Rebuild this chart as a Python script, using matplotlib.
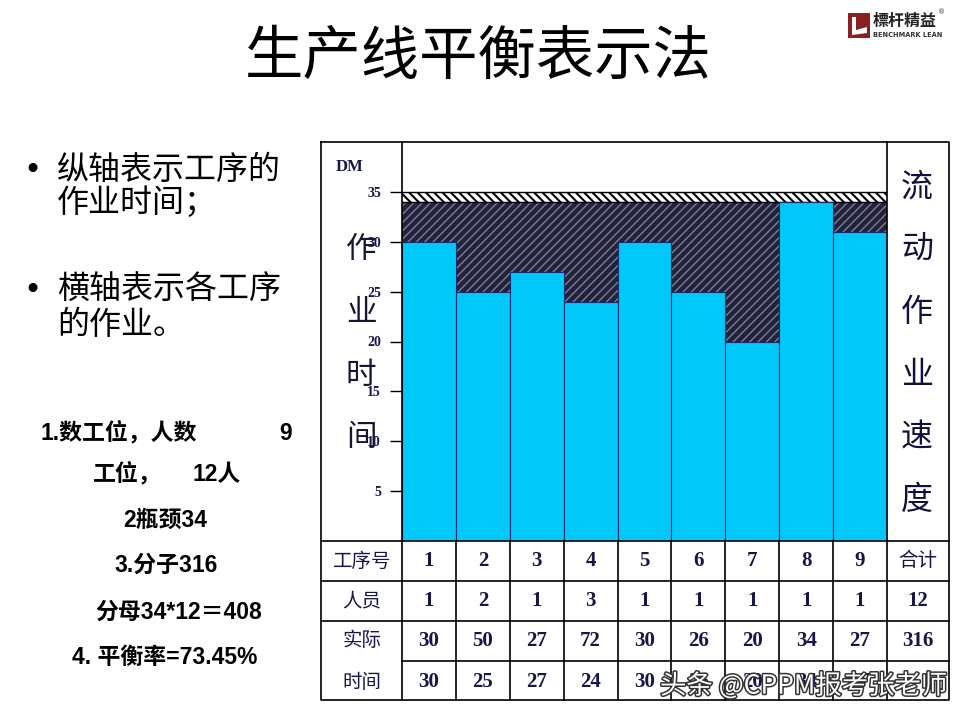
import matplotlib
matplotlib.use("Agg")
import matplotlib.pyplot as plt
import matplotlib.patheffects as pe
from matplotlib.patches import Rectangle, Polygon
import numpy as np

plt.rcParams['font.family'] = ['Noto Sans CJK SC', 'DejaVu Sans']
plt.rcParams['hatch.linewidth'] = 1.0

# ---------------- data ----------------
title = "生产线平衡表示法"
stations = ["1", "2", "3", "4", "5", "6", "7", "8", "9"]
work_time = [30, 25, 27, 24, 30, 25, 20, 34, 31]   # bar heights
bottleneck = 34
takt_band_top = 35
y_ticks = [5, 10, 15, 20, 25, 30, 35]

row_labels = ["工序号", "人员", "实际", "时间"]
people = ["1", "2", "1", "3", "1", "1", "1", "1", "1"]
actual = ["30", "50", "27", "72", "30", "26", "20", "34", "27"]
times = ["30", "25", "27", "24", "30", "26", "20", "34", "27"]
totals = ["合计", "12", "316", ""]

left_axis_chars = ["作", "业", "时", "间"]
right_axis_chars = ["流", "动", "作", "业", "速", "度"]

bullets = [["纵轴表示工序的", "作业时间；"], ["横轴表示各工序", "的作业。"]]

navy = "#16164a"
cyan = "#00C8F8"

fig = plt.figure(figsize=(9.6, 7.2), dpi=100)

# ---------------- chart axes (pixel geometry) ----------------
X0, X1, YT, YB = 402, 887, 142, 541
ax = fig.add_axes([X0 / 960, 1 - YB / 720, (X1 - X0) / 960, (YB - YT) / 720])
ax.set_xlim(0.5, 9.5)
ax.set_ylim(0, 40)
xs = np.arange(1, len(work_time) + 1)

dark = ax.fill_between([0.5, 9.5], 0, bottleneck, facecolor="#22223a",
                       edgecolor="#7e7e9a", hatch="////", linewidth=0, zorder=1)
band = ax.fill_between([0.5, 9.5], bottleneck, takt_band_top, facecolor="white",
                       edgecolor="black", hatch="\\\\\\\\", linewidth=0, zorder=1)
try:
    band.set_hatch_linewidth(1.5)
except Exception:
    pass
ax.hlines([bottleneck, takt_band_top], 0.5, 9.5, color="black", lw=1.0, zorder=2)
ax.bar(xs, work_time, width=1.0, color=cyan, edgecolor="#1a2a70", linewidth=0.8, zorder=3)

ax.set_xticks([])
ax.set_yticks(y_ticks)
ax.set_yticklabels([str(v) for v in y_ticks])
ax.tick_params(axis="y", length=9, width=1, direction="out", pad=6,
               labelsize=10, labelcolor=navy, color="black")
for t in ax.get_yticklabels():
    t.set_fontfamily("Liberation Serif")
    t.set_fontweight("bold")
for s in ax.spines.values():
    s.set_visible(False)

# ---------------- overlay (pixel coordinates) ----------------
ov = fig.add_axes([0, 0, 1, 1], zorder=5)
ov.set_xlim(0, 960)
ov.set_ylim(720, 0)
ov.axis("off")
ov.patch.set_alpha(0)

# title
ov.text(478, 57, title, fontsize=42, ha="center", va="center", color="black")

# logo
ov.add_patch(Rectangle((848, 13), 22, 25, facecolor="#8a2020", edgecolor="none"))
ov.add_patch(Polygon([(852, 17), (856, 17), (856, 30), (867, 27), (867, 33), (852, 35)],
                     closed=True, facecolor="white", edgecolor="none"))
ov.text(873, 21, "標杆精益", fontsize=11.5, fontweight="bold", ha="left", va="center",
        color="#222222", family=["Noto Sans CJK TC", "Noto Sans CJK SC"])
ov.text(873, 35, "BENCHMARK LEAN", fontsize=4.8, fontweight="bold", ha="left", va="center",
        color="#333333", family="DejaVu Sans")
ov.text(942, 12, "®", fontsize=5, ha="center", va="center", color="#333333", family="DejaVu Sans")

# bullets
by = [(170, 203), (290, 325)]
for (y1, y2), lines in zip(by, bullets):
    ov.text(32, y1, "•", fontsize=22, ha="center", va="center", color="black", family="DejaVu Sans")
    ov.text(57, y1, lines[0], fontsize=23, ha="left", va="center", color="black")
    ov.text(57, y2, lines[1], fontsize=23, ha="left", va="center", color="black")

# left-bottom notes
fam_note = ["Liberation Sans", "Noto Sans CJK SC"]
note_kw = dict(fontsize=16.5, fontweight="bold", va="center", color="black", family=fam_note)
ov.text(40, 433, "1.数工位，人数", ha="left", **note_kw)
ov.text(286, 433, "9", ha="center", **note_kw)
ov.text(93, 474, "工位，", ha="left", **note_kw)
ov.text(192, 474, "12人", ha="left", **note_kw)
ov.text(165, 520, "2瓶颈34", ha="center", **note_kw)
ov.text(166, 565, "3.分子316", ha="center", **note_kw)
ov.text(95, 612, "分母34*12＝408", ha="left", **note_kw)
ov.text(72, 657, "4. 平衡率=73.45%", ha="left", **note_kw)

# frame
LW = 1.2
FL, FR, FB = 321, 949, 700
ov.plot([FL, FR, FR, FL, FL], [YT, YT, FB, FB, YT], color="black", lw=LW)
ov.plot([X0, X0], [YT, FB], color="black", lw=LW)
ov.plot([X1, X1], [YT, FB], color="black", lw=LW)
ov.plot([FL, FR], [YB, YB], color="black", lw=LW)

# chart side texts
ov.text(350, 167, "DM", fontsize=12, fontweight="bold", ha="center", va="center",
        color=navy, family="Liberation Serif")
for ch, y in zip(left_axis_chars, [250, 312, 375, 437]):
    ov.text(361, y, ch, fontsize=22, ha="center", va="center", color="#151535")
for ch, y in zip(right_axis_chars, [188, 250, 312, 375, 437, 500]):
    ov.text(917, y, ch, fontsize=23, ha="center", va="center", color="#101040")

# table
col_w = (X1 - X0) / len(stations)
col_edges = [X0 + k * col_w for k in range(len(stations) + 1)]
ov.plot([FL, FR], [581, 581], color="black", lw=LW)
ov.plot([FL, FR], [621, 621], color="black", lw=LW)
ov.plot([X0, FR], [661, 661], color="black", lw=LW)
for xe in col_edges[1:-1]:
    ov.plot([xe, xe], [541, 700], color="black", lw=LW)

row_centers = [561, 601, 641, 682]
for lab, y in zip(row_labels, row_centers):
    ov.text(362, y, lab, fontsize=14, ha="center", va="center", color=navy)

num_kw = dict(fontsize=15, fontweight="bold", ha="center", va="center", color=navy,
              family="Liberation Serif")
for i in range(len(stations)):
    cx = (col_edges[i] + col_edges[i + 1]) / 2
    ov.text(cx, 561, stations[i], **num_kw)
    ov.text(cx, 601, people[i], **num_kw)
    ov.text(cx, 641, actual[i], **num_kw)
    ov.text(cx, 682, times[i], **num_kw)
tx = (X1 + FR) / 2
ov.text(tx, 561, totals[0], fontsize=14, ha="center", va="center", color=navy)
ov.text(tx, 601, totals[1], **num_kw)
ov.text(tx, 641, totals[2], **num_kw)

# watermark
wm = ov.text(660, 686, "头条 @CPPM报考张老师", fontsize=19, ha="left", va="center",
             color="white", family=["Noto Sans CJK SC", "DejaVu Sans"], zorder=10)
wm.set_path_effects([pe.withStroke(linewidth=2.2, foreground="#333333")])

fig.savefig("out.png", dpi=100, facecolor="white")
